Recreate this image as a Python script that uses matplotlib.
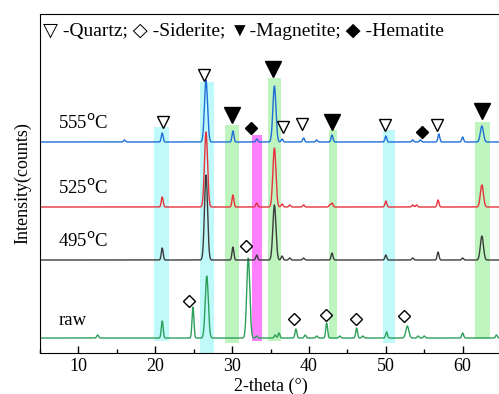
import numpy as np
import matplotlib.pyplot as plt

plt.rcParams["font.family"] = ["Liberation Serif", "DejaVu Sans"]

# peak positions (2-theta) and heights (arbitrary counts) for each sample
raw_pos = [12.5, 20.9, 24.9, 26.7, 32.1, 33.2, 35.6, 36.1, 38.3, 39.5, 41.0, 42.3,
           44.0, 46.2, 47.0, 50.1, 52.8, 54.2, 55.0, 60.0, 64.4]
raw_h = [3, 17, 31, 62, 80, 2, 3, 5, 9, 3, 2, 15, 2, 10, 2, 6, 12, 2, 2, 5, 3]

t495_pos = [20.9, 26.6, 30.1, 33.2, 35.5, 36.5, 37.5, 39.3, 43.0, 50.0, 53.5, 56.8, 60.0, 62.5]
t495_h = [12, 85, 13, 5, 55, 4, 2, 2, 7, 5, 2, 8, 2, 24]

t525_pos = [20.9, 26.6, 30.1, 33.2, 35.5, 36.5, 37.5, 39.3, 42.7, 43.0, 50.0, 53.5, 54.0, 56.8, 62.5]
t525_h = [10, 75, 12, 4, 59, 3, 2, 2, 2, 4, 6, 2, 2, 7, 22]

t555_pos = [16.0, 20.9, 26.6, 30.1, 33.2, 35.5, 36.5, 39.3, 41.0, 43.0, 50.0, 53.5, 54.5, 56.9, 60.0, 62.5]
t555_h = [2, 9, 62, 11, 3, 56, 3, 4, 2, 7, 6, 2, 2, 8, 5, 16]

offsets = [15, 93, 146, 211]
labels = ["raw", "495$^{\\rm o}$C", "525$^{\\rm o}$C", "555$^{\\rm o}$C"]
colors = ["#2ca05a", "#3c3c3c", "#e8323c", "#1e6fd8"]

# highlight bands: (x0, x1, y0, y1, colour)
bands = [
    (19.85, 21.75, 12, 226, "#9ef7f7"),
    (25.8, 27.6, -4, 271, "#9ef7f7"),
    (29.1, 30.9, 10, 228, "#9cf09c"),
    (32.65, 33.95, 12, 218, "#ff3cff"),
    (34.65, 36.4, 12, 275, "#9cf09c"),
    (42.6, 43.7, 14, 223, "#9cf09c"),
    (49.6, 51.2, 10, 223, "#9ef7f7"),
    (61.6, 63.5, 14, 231, "#9cf09c"),
]

quartz_x = [21.0, 26.3, 36.6, 39.1, 49.9, 56.7]
quartz_y = [231, 278, 226, 229, 228, 228]
magnetite_x = [30.0, 35.3, 43.0, 62.5]
magnetite_y = [238, 284, 231, 242]
hematite_x = [32.5, 54.7]
hematite_y = [225, 221]
siderite_x = [24.4, 31.8, 38.0, 42.2, 46.1, 52.4]
siderite_y = [52, 107, 34, 38, 34, 37]

x = np.linspace(5, 65, 3000)


def profile(pos, heights):
    y = np.zeros_like(x)
    for p, h in zip(pos, heights):
        w = 0.2 if h > 40 or p in (52.8, 62.5) else 0.12
        y += h * np.exp(-0.5 * ((x - p) / w) ** 2)
    return y


fig = plt.figure(figsize=(4.99, 3.94), dpi=100)
ax = fig.add_axes([0.0802, 0.104, 0.924, 0.8605])

series = [(raw_pos, raw_h), (t495_pos, t495_h), (t525_pos, t525_h), (t555_pos, t555_h)]
for (pos, h), off, c, lab in zip(series, offsets, colors, labels):
    ax.plot(x, profile(pos, h) + off, color=c, lw=1.0)
    ax.text(7.4, off + 9, lab, fontsize=13.5, ha="left", va="bottom")

for x0, x1, y0, y1, c in bands:
    ax.fill_between([x0, x1], y0, y1, color=c, alpha=0.65, lw=0)

ax.plot(quartz_x, quartz_y, "v", ms=9, mfc="white", mec="black", mew=1.0, ls="none")
ax.plot(magnetite_x, magnetite_y, "v", ms=11, color="black", ls="none")
ax.plot(hematite_x, hematite_y, "D", ms=6.5, color="black", ls="none")
ax.plot(siderite_x, siderite_y, "D", ms=6.5, mfc="white", mec="black", mew=1.0, ls="none")

ax.text(5.4, 321, "\u25bd -Quartz; \u25c7 -Siderite; \u25bc-Magnetite; \u25c6 -Hematite",
        fontsize=14, ha="left", va="center",
        family=["Liberation Serif", "DejaVu Sans"])

ax.set_xlim(5, 65)
ax.set_ylim(0, 339)
ax.set_xticks([10, 20, 30, 40, 50, 60])
ax.set_xticks([5, 15, 25, 35, 45, 55, 65], minor=True)
ax.set_yticks([])
ax.tick_params(axis="x", direction="in", labelsize=13, length=5, width=1)
ax.tick_params(axis="x", which="minor", direction="in", length=3, width=1)
ax.set_xlabel("2-theta (\u00b0)", fontsize=13, labelpad=2)
ax.set_ylabel("Intensity(counts)", fontsize=13, labelpad=6)

plt.savefig("out.png", dpi=100)
